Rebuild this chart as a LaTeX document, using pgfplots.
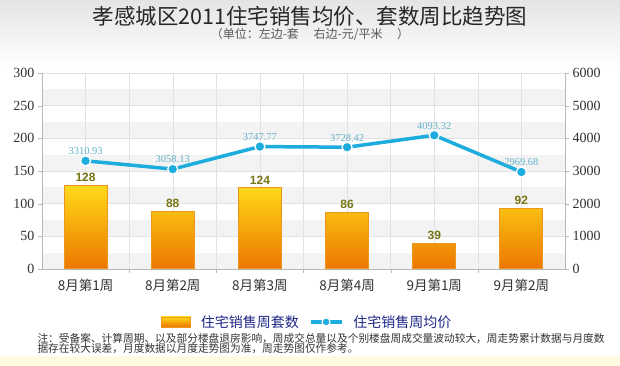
\documentclass[border=0pt]{standalone}
\usepackage{pgfplots}
\pgfplotsset{compat=1.18}
\usepackage{fontspec}
\setmainfont{Liberation Serif}
\newfontfamily\cjk{Noto Sans CJK SC}
\newfontfamily\sans{Liberation Sans}
\definecolor{lineblue}{RGB}{28,172,222}
\definecolor{lblblue}{RGB}{100,178,200}
\definecolor{bartop}{RGB}{255,218,26}
\definecolor{barbot}{RGB}{236,118,0}
\definecolor{bardraw}{RGB}{238,150,30}
\definecolor{olive}{RGB}{118,118,20}
\definecolor{navy}{RGB}{30,40,135}
\definecolor{bandgray}{RGB}{243,243,243}
\definecolor{gridgray}{RGB}{226,226,226}
\definecolor{axgray}{RGB}{185,185,185}
\definecolor{txt}{RGB}{50,50,50}
\definecolor{topgray}{RGB}{228,228,228}
\definecolor{ylw}{RGB}{255,252,226}
\begin{document}
\begin{tikzpicture}
\path[use as bounding box] (0,0) rectangle (620pt,366pt);
\fill[white] (0,0) rectangle (620pt,366pt);
\shade[top color=topgray, bottom color=white] (0,300pt) rectangle (620pt,366pt);
\fill[ylw] (0,0) rectangle (620pt,10pt);
\foreach \b in {0,2,4,6,8,10} {
  \fill[bandgray] (42pt,97pt+\b*16.3333pt) rectangle (565pt,97pt+\b*16.3333pt+16.3333pt);
}
\node[font=\cjk\fontsize{21.5}{24}\selectfont, text=black!85] at (310pt,350pt) {孝感城区2011住宅销售均价、套数周比趋势图};
\node[font=\cjk\fontsize{12}{14}\selectfont, text=black!65] at (310pt,332pt) {（单位：左边-套\quad\ 右边-元/平米\quad\ ）};
\node[font=\cjk\fontsize{10.7}{11}\selectfont, text=black!80, anchor=west] at (34pt,27pt) {注：受备案、计算周期、以及部分楼盘退房影响，周成交总量以及个别楼盘周成交量波动较大，周走势累计数据与月度数};
\node[font=\cjk\fontsize{10.7}{11}\selectfont, text=black!80, anchor=west] at (34pt,17pt) {据存在较大误差，月度数据以月度走势图为准，周走势图仅作参考。};
\begin{axis}[
  at={(42pt,97pt)}, anchor=south west,
  scale only axis, width=523pt, height=196pt,
  xmin=-0.5, xmax=5.5, ymin=0, ymax=300,
  axis x line*=bottom, axis y line*=left,
  axis line style={draw=axgray},
  xtick={0,1,2,3,4,5},
  xticklabels={8月第1周,8月第2周,8月第3周,8月第4周,9月第1周,9月第2周},
  minor x tick num=1,
  xmajorgrids, xminorgrids, ymajorgrids,
  grid style={draw=gridgray, line width=0.5pt},
  major x tick style={draw=none},
  minor x tick style={draw=axgray},
  minor tick length=4pt,
  ytick={0,50,...,300},
  major tick length=4pt,
  tick align=outside,
  y tick style={draw=axgray},
  xticklabel style={font=\cjk\fontsize{13.5}{15}\selectfont, text=txt, yshift=-2.5pt},
  yticklabel style={font=\fontsize{14}{16}\selectfont, text=txt},
  /pgf/number format/assume math mode=true,
  ybar, bar width=43pt,
  legend style={at={(0.507,-0.27)}, anchor=center, draw=none, fill=none,
    legend columns=2, font=\cjk\fontsize{14}{16}\selectfont, text=navy,
    /tikz/every odd column/.append style={column sep=8pt},
    /tikz/every even column/.append style={column sep=8pt}},
]
\addplot[draw=bardraw, line width=1pt, top color=bartop, bottom color=barbot,
  nodes near coords,
  every node near coord/.append style={font=\sans\bfseries\fontsize{12}{14}\selectfont, text=olive},
  legend image code/.code={\draw[draw=bardraw, line width=0.8pt, top color=bartop, bottom color=barbot] (0pt,-5pt) rectangle (29pt,5pt);}]
  coordinates {(0,128) (1,88) (2,124) (3,86) (4,39) (5,92)};
\addlegendentry{住宅销售周套数}
\addlegendimage{legend image code/.code={
  \draw[lineblue, line width=3.5pt] (0pt,0pt) -- (31pt,0pt);
  \fill[lineblue, draw=white, line width=1.2pt] (15.5pt,0pt) circle (4pt);}}
\addlegendentry{住宅销售周均价}
\end{axis}
\begin{axis}[
  at={(42pt,97pt)}, anchor=south west,
  scale only axis, width=523pt, height=196pt,
  xmin=-0.5, xmax=5.5, ymin=0, ymax=6000,
  hide x axis,
  axis y line*=right,
  axis line style={draw=axgray},
  ytick={0,1000,...,6000},
  major tick length=4pt, tick align=outside,
  y tick style={draw=axgray},
  yticklabel style={font=\fontsize{14}{16}\selectfont, text=txt},
  /pgf/number format/assume math mode=true,
  /pgf/number format/1000 sep={},
  clip=false,
]
\addplot[color=lineblue, line width=3.5pt, mark=*, mark size=5pt,
  mark options={fill=lineblue, draw=white, line width=1.3pt},
  point meta=explicit symbolic, nodes near coords,
  every node near coord/.append style={font=\fontsize{10.5}{12}\selectfont, text=lblblue, yshift=2pt}]
  coordinates {(0,3310.93) [3310.93] (1,3058.13) [3058.13] (2,3747.77) [3747.77]
               (3,3728.42) [3728.42] (4,4093.32) [4093.32] (5,2969.68) [2969.68]};
\end{axis}
\end{tikzpicture}
\end{document}
